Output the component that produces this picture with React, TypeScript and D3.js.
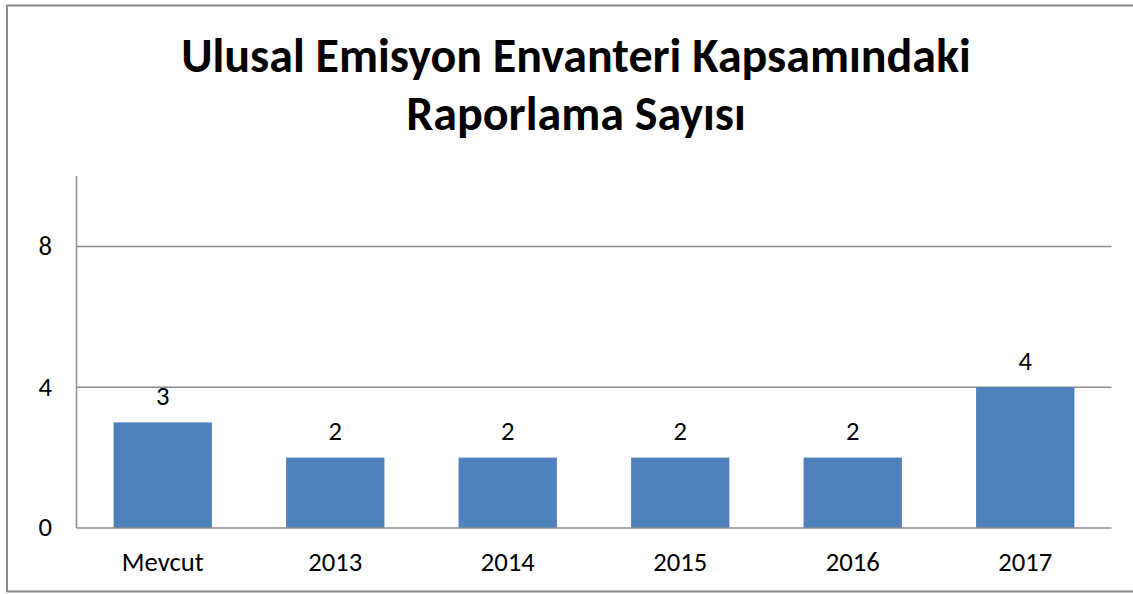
import React from "react";
import * as d3 from "d3";

const categories = ["Mevcut", "2013", "2014", "2015", "2016", "2017"];
const values = [3, 2, 2, 2, 2, 4];
const yTicks = [0, 4, 8];
const titleLines = ["Ulusal Emisyon Envanteri Kapsamındaki", "Raporlama Sayısı"];

const W = 1133;
const H = 594;
const FONT = "Carlito, 'Open Sans', 'Liberation Sans', sans-serif";

export default function App() {
  const left = 76.5;
  const right = 1111.5;
  const top = 176;
  const bottom = 528;
  const x = d3.scaleBand<string>().domain(categories).range([left, right]).paddingInner(0.43).paddingOuter(0.215);
  const y = d3.scaleLinear().domain([0, 10]).range([bottom, top]);

  return (
    <svg width={W} height={H} style={{ position: "absolute", left: 0, top: 0 }}>
      <rect x={7} y={5.5} width={1140} height={586} fill="#fff" stroke="#8c8c8c" strokeWidth={2} />
      {titleLines.map((t, i) => (
        <text key={i} x={576} y={72 + i * 58} textAnchor="middle" fontFamily={FONT} fontWeight="bold" fontSize={48} fill="#000">
          {t}
        </text>
      ))}
      {yTicks.map((v) => (
        <g key={v}>
          {v > 0 && <line x1={left} x2={right} y1={y(v)} y2={y(v)} stroke="#8c8c8c" strokeWidth={1.5} />}
          <text x={52} y={y(v) - 1} dy="0.35em" textAnchor="end" fontFamily={FONT} fontSize={26.67} fill="#000">
            {v}
          </text>
        </g>
      ))}
      {categories.map((c, i) => (
        <g key={c}>
          <rect x={x(c)} y={y(values[i])} width={x.bandwidth()} height={bottom - y(values[i])} fill="#4F81BD" />
          <text x={(x(c) as number) + x.bandwidth() / 2} y={y(values[i]) - 27} dy="0.35em" textAnchor="middle" fontFamily={FONT} fontSize={26.67} fill="#000">
            {values[i]}
          </text>
          <text x={(x(c) as number) + x.bandwidth() / 2} y={562} dy="0.35em" textAnchor="middle" fontFamily={FONT} fontSize={26.67} fill="#000">
            {c}
          </text>
        </g>
      ))}
      <line x1={left} x2={left} y1={top} y2={bottom} stroke="#8c8c8c" strokeWidth={1.5} />
      <line x1={left} x2={right} y1={bottom} y2={bottom} stroke="#8c8c8c" strokeWidth={1.5} />
    </svg>
  );
}
